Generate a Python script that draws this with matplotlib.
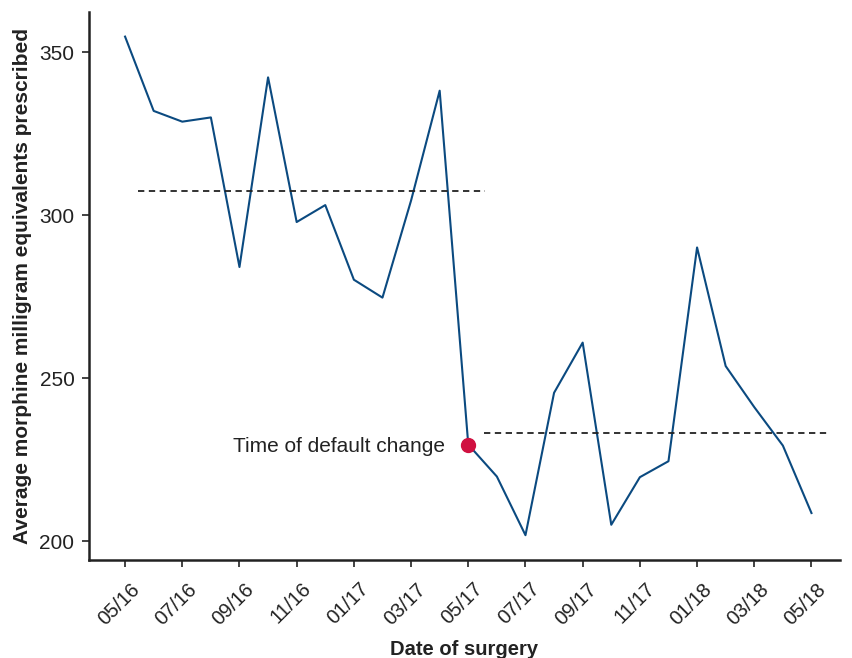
import matplotlib
matplotlib.use("Agg")
import matplotlib.pyplot as plt
import matplotlib.transforms as mtransforms
import numpy as np

plt.rcParams['font.family'] = ['Liberation Sans', 'DejaVu Sans']

months = ["05/16", "06/16", "07/16", "08/16", "09/16", "10/16", "11/16", "12/16",
          "01/17", "02/17", "03/17", "04/17", "05/17", "06/17", "07/17", "08/17",
          "09/17", "10/17", "11/17", "12/17", "01/18", "02/18", "03/18", "04/18", "05/18"]
mme = [354.8, 332.0, 328.7, 330.0, 284.1, 342.3, 297.9, 303.1, 280.2, 274.7,
       304.5, 338.2, 229.6, 219.8, 201.8, 245.5, 260.9, 205.0, 219.6, 224.5,
       290.1, 253.7, 241.1, 229.3, 208.6]
pre_mean = 307.4
post_mean = 233.3
change_idx = 12
tick_labels = months[::2]

x = np.arange(len(months))

fig = plt.figure(figsize=(8.52, 6.58), dpi=100)
ax = fig.add_axes([0.1045, 0.149, 0.8815, 0.833])

ax.plot(x, mme, color='#0b4a80', lw=1.5, zorder=2)
ax.plot([x[change_idx]], [mme[change_idx]], 'o', color='#d01040', ms=10, zorder=3)
ax.hlines(pre_mean, 0.45, 12.58, colors='#222222', linestyles=(0, (3.5, 2.5)), lw=1.3)
ax.hlines(post_mean, 12.55, 24.6, colors='#222222', linestyles=(0, (3.5, 2.5)), lw=1.3)
ax.text(x[change_idx] - 0.8, mme[change_idx] - 0.6, "Time of default change",
        ha='right', va='center', fontsize=15, color='#222222')

ax.set_xlim(-1.26, 25.0)
ax.set_ylim(194.2, 362.4)
ax.set_xticks(x[::2])
ax.set_xticklabels(tick_labels, rotation=45, ha='right', va='top', rotation_mode='anchor')
ax.set_yticks([200, 250, 300, 350])
ax.tick_params(axis='both', direction='out', length=5, width=1.2, labelsize=15,
               colors='#222222', pad=5.5)
ax.tick_params(axis='x', labelsize=14.5, pad=9)
offset = mtransforms.ScaledTranslation(5 / 100, 0, fig.dpi_scale_trans)
for lab in ax.get_xticklabels():
    lab.set_transform(lab.get_transform() + offset)
for s in ['top', 'right']:
    ax.spines[s].set_visible(False)
for s in ['left', 'bottom']:
    ax.spines[s].set_linewidth(1.8)
    ax.spines[s].set_color('#222222')

ax.set_xlabel("Date of surgery", fontsize=14.5, fontweight='bold', color='#222222', labelpad=8)
ax.set_ylabel("Average morphine milligram equivalents prescribed", fontsize=15,
              fontweight='bold', color='#222222', labelpad=5)

fig.savefig("out.png", dpi=100)
